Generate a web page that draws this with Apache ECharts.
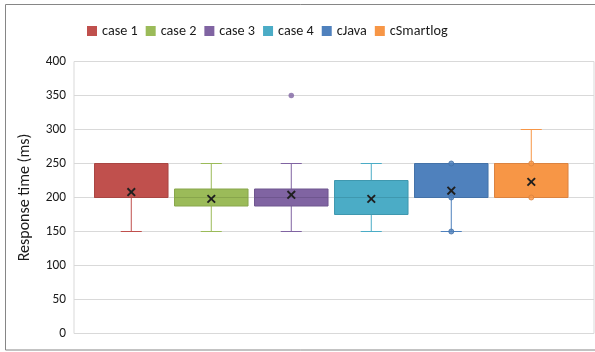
<!DOCTYPE html>
<html>
<head>
<meta charset="utf-8">
<script src="https://cdn.jsdelivr.net/npm/echarts@6/dist/echarts.min.js"></script>
<style>
  html, body { margin: 0; padding: 0; background: #ffffff; }
  #chart { width: 595px; height: 352px; }
</style>
</head>
<body>
<div id="chart"></div>
<script>
// Response time distributions, one box per configuration
const categories = ['case 1', 'case 2', 'case 3', 'case 4', 'cJava', 'cSmartlog'];
const whiskerLow  = [150, 150,   150,   150, 150, 200];
const quartile1   = [200, 187.5, 187.5, 175, 200, 200];
const medians     = [200, 200,   200,   200, 200, 250];
const quartile3   = [250, 212.5, 212.5, 225, 250, 250];
const whiskerHigh = [250, 250,   250,   250, 250, 300];
const means       = [208, 198,   204,   198, 210, 223];
// outliers and shown data points per configuration
const outlierPoints = [[], [], [350], [], [], []];
const innerPoints   = [[], [], [], [], [250, 200, 150], [250, 200]];
const yTicks = { min: 0, max: 400, step: 50 };

const colors = ['#C0504D', '#9BBB59', '#8064A2', '#4BACC6', '#4F81BD', '#F79646'];
const edgeColors = ['#A94643', '#88A64C', '#6F568F', '#3F98AF', '#4472A8', '#DB8340'];

const FONT = 'Carlito, Lato, sans-serif';
const BOX_HALF = 36.75;   // px
const CAP_HALF = 10.5;    // px
const MARK_HALF = 3.8;    // px

function renderBox(params, api) {
  const i = api.value(0);
  const si = params.seriesIndex;
  const cLow = api.coord([i, api.value(1)]);
  const cQ1 = api.coord([i, api.value(2)]);
  const cMed = api.coord([i, api.value(3)]);
  const cQ3 = api.coord([i, api.value(4)]);
  const cHigh = api.coord([i, api.value(5)]);
  const cMean = api.coord([i, api.value(6)]);
  const x = cQ1[0];
  const stroke = edgeColors[si];
  const fill = colors[si];
  const children = [];
  const line = (x1, y1, x2, y2, style) => ({
    type: 'line',
    shape: { x1: x1, y1: y1, x2: x2, y2: y2 },
    style: Object.assign({ stroke: fill, lineWidth: 1 }, style || {})
  });
  // lower whisker
  if (cLow[1] - cQ1[1] > 0.5) {
    children.push(line(x, cQ1[1], x, cLow[1]));
    children.push(line(x - CAP_HALF, cLow[1], x + CAP_HALF, cLow[1]));
  }
  // upper whisker
  if (cQ3[1] - cHigh[1] > 0.5) {
    children.push(line(x, cQ3[1], x, cHigh[1]));
    children.push(line(x - CAP_HALF, cHigh[1], x + CAP_HALF, cHigh[1]));
  }
  // box
  children.push({
    type: 'rect',
    shape: { x: x - BOX_HALF, y: cQ3[1], width: BOX_HALF * 2, height: cQ1[1] - cQ3[1] },
    style: { fill: fill, stroke: stroke, lineWidth: 1 }
  });
  // median
  children.push(line(x - BOX_HALF, cMed[1], x + BOX_HALF, cMed[1], { stroke: stroke }));
  // mean marker
  children.push(line(cMean[0] - MARK_HALF, cMean[1] - MARK_HALF, cMean[0] + MARK_HALF, cMean[1] + MARK_HALF, { stroke: '#1f1f1f', lineWidth: 1.9 }));
  children.push(line(cMean[0] - MARK_HALF, cMean[1] + MARK_HALF, cMean[0] + MARK_HALF, cMean[1] - MARK_HALF, { stroke: '#1f1f1f', lineWidth: 1.9 }));
  return { type: 'group', children: children };
}

const series = [];
categories.forEach(function (name, i) {
  series.push({
    name: name,
    type: 'custom',
    renderItem: renderBox,
    itemStyle: { color: colors[i] },
    encode: { x: 0, y: [1, 2, 3, 4, 5, 6] },
    data: [[i, whiskerLow[i], quartile1[i], medians[i], quartile3[i], whiskerHigh[i], means[i]]],
    z: 2
  });
});
categories.forEach(function (name, i) {
  if (innerPoints[i].length) {
    series.push({
      type: 'scatter',
      symbol: 'circle',
      symbolSize: 5,
      itemStyle: { color: colors[i], borderColor: edgeColors[i], borderWidth: 1 },
      data: innerPoints[i].map(function (v) { return [i, v]; }),
      z: 4,
      silent: true
    });
  }
  if (outlierPoints[i].length) {
    series.push({
      type: 'scatter',
      symbol: 'circle',
      symbolSize: 5.5,
      itemStyle: { color: colors[i] },
      data: outlierPoints[i].map(function (v) { return [i, v]; }),
      z: 4,
      silent: true
    });
  }
});

const chart = echarts.init(document.getElementById('chart'), null, { renderer: 'canvas' });
chart.setOption({
  animation: false,
  backgroundColor: '#ffffff',
  textStyle: { fontFamily: FONT },
  graphic: [{
    type: 'rect',
    shape: { x: 5.5, y: 4.5, width: 600, height: 345.5 },
    style: { fill: 'none', stroke: '#868686', lineWidth: 1 },
    silent: true,
    z: 0
  }],
  legend: {
    data: categories,
    left: 87,
    top: 24,
    padding: 0,
    itemWidth: 10,
    itemHeight: 10,
    itemGap: 8,
    icon: 'rect',
    textStyle: { fontFamily: FONT, fontSize: 14.2, color: '#1a1a1a' }
  },
  grid: {
    left: 74, right: 1, top: 61.5, bottom: 18.5,
    show: true, borderColor: '#d9d9d9', borderWidth: 1
  },
  xAxis: {
    type: 'value',
    min: -0.716,
    max: 5.784,
    show: false
  },
  yAxis: {
    type: 'value',
    min: yTicks.min,
    max: yTicks.max,
    interval: yTicks.step,
    name: 'Response time (ms)',
    nameLocation: 'middle',
    nameGap: 41,
    nameTextStyle: { fontFamily: FONT, fontSize: 16, color: '#1a1a1a' },
    axisLine: { show: false },
    axisTick: { show: false },
    axisLabel: { margin: 8, fontFamily: FONT, fontSize: 13.3, color: '#1a1a1a' },
    splitLine: { lineStyle: { color: '#d9d9d9', width: 1 } }
  },
  series: series
});
</script>
</body>
</html>
